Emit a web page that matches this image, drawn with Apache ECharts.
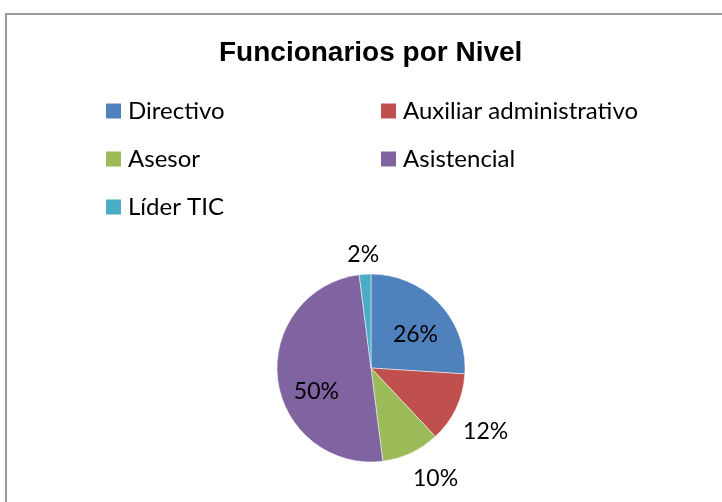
<!DOCTYPE html>
<html>
<head>
<meta charset="utf-8">
<style>
  html, body { margin: 0; padding: 0; background: #fff; }
  #chart { width: 722px; height: 502px; }
</style>
<script src="https://cdn.jsdelivr.net/npm/echarts@6/dist/echarts.min.js"></script>
</head>
<body>
<div id="chart"></div>
<script>
// datos
var categories = ['Directivo', 'Auxiliar administrativo', 'Asesor', 'Asistencial', 'Líder TIC'];
var values = [26, 12, 10, 50, 2];
var colors = ['#4f81bd', '#c0504d', '#9bbb59', '#8064a2', '#4bacc6'];

// ajuste de etiquetas (posicion tipo "mejor ajuste" de Excel)
var labelPos = ['inside', 'outside', 'outside', 'inside', 'outside'];
var labelOffset = [[8, 1], [2, 24], [-3, 26], [-5, 17], [19, -20]];

var chart = echarts.init(document.getElementById('chart'));

var pieData = categories.map(function (name, i) {
  return {
    name: name,
    value: values[i],
    itemStyle: { color: colors[i] },
    label: { position: labelPos[i], offset: labelOffset[i] }
  };
});

var legendText = { fontFamily: 'Lato', fontSize: 24, color: '#000', padding: [0, 0, 0, 2] };
var legendItem = { borderWidth: 0 };

chart.setOption({
  animation: false,
  title: {
    text: 'Funcionarios por Nivel',
    left: 214,
    top: 34,
    textStyle: {
      fontFamily: 'Liberation Sans',
      fontWeight: 'bold',
      fontSize: 28,
      color: '#000'
    }
  },
  legend: [{
    orient: 'vertical',
    left: 106,
    top: 99,
    padding: 0,
    itemWidth: 15,
    itemHeight: 15,
    itemGap: 24,
    icon: 'rect',
    itemStyle: legendItem,
    data: ['Directivo', 'Asesor', 'Líder TIC'],
    textStyle: legendText
  }, {
    orient: 'vertical',
    left: 381,
    top: 99,
    padding: 0,
    itemWidth: 15,
    itemHeight: 15,
    itemGap: 24,
    icon: 'rect',
    itemStyle: legendItem,
    data: ['Auxiliar administrativo', 'Asistencial'],
    textStyle: legendText
  }],
  graphic: [{
    type: 'rect',
    shape: { x: 6, y: 14, width: 800, height: 600 },
    style: { fill: 'none', stroke: '#9a9a9a', lineWidth: 2 },
    silent: true
  }],
  series: [{
    name: 'Funcionarios',
    type: 'pie',
    center: [371, 368],
    radius: 94,
    startAngle: 90,
    clockwise: true,
    avoidLabelOverlap: false,
    data: pieData,
    itemStyle: { borderColor: '#fff', borderWidth: 0.5 },
    label: {
      show: true,
      formatter: '{c}%',
      fontFamily: 'Lato',
      fontSize: 23,
      color: '#000'
    },
    labelLine: { show: false, length: 0, length2: 0 },
    emphasis: { disabled: true }
  }]
});
</script>
</body>
</html>
